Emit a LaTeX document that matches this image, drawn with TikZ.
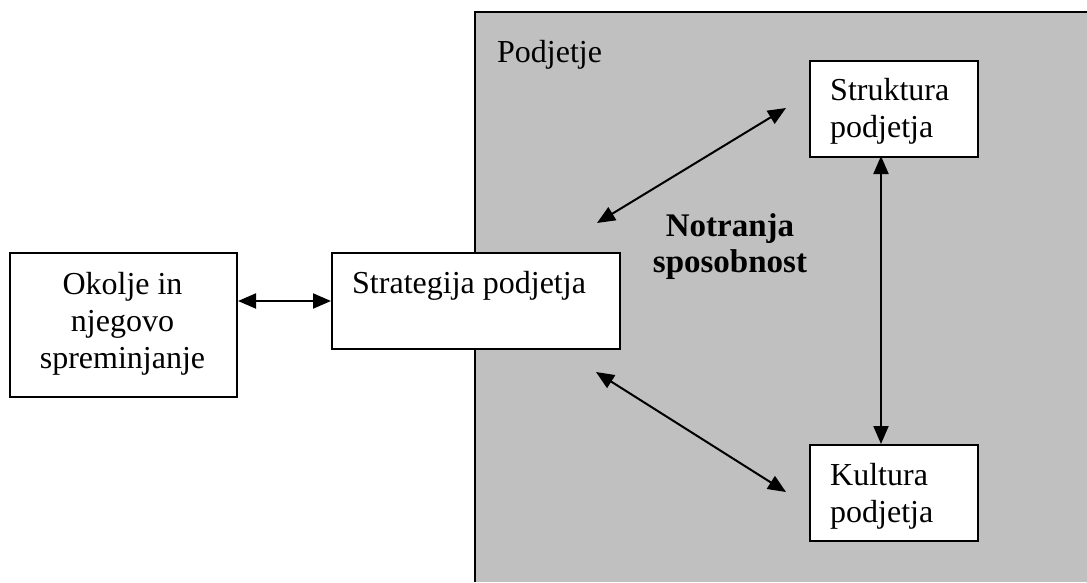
\documentclass[tikz,border=0pt]{standalone}
\usepackage{fontspec}
\setmainfont{Liberation Serif}
\usetikzlibrary{arrows.meta}
\tikzset{
  box/.style={draw=black, line width=2pt, fill=white, inner sep=0pt},
  txt/.style={inner sep=0pt, font=\fontsize{32}{37}\selectfont},
  conn/.style={line width=2pt, {Triangle[length=18pt,width=15pt]}-{Triangle[length=18pt,width=15pt]}},
}
\begin{document}
\begin{tikzpicture}[x=1pt,y=-1pt]
\useasboundingbox (0,0) rectangle (1087,582);
% grey company area
\fill[fill={rgb,255:red,192;green,192;blue,192}] (475,12) rectangle (1087,582);
\draw[line width=2.2pt] (475,582) -- (475,12) -- (1087,12);
% boxes
\node[box, anchor=north west, minimum width=227pt, minimum height=144pt] (okolje) at (9,252) {};
\node[box, anchor=north west, minimum width=288pt, minimum height=96pt] (strat) at (331,252) {};
\node[box, anchor=north west, minimum width=168pt, minimum height=96pt] (strukt) at (809,60) {};
\node[box, anchor=north west, minimum width=168pt, minimum height=96pt] (kult) at (809,444) {};
% texts
\node[txt, align=center, anchor=center] (okt) at (122.5,324) {Okolje in\\njegovo\\spreminjanje};
\node[txt, anchor=base west] (st) at (352,293) {Strategija podjetja};
\node[txt, anchor=base west, align=left] (skt) at (830,137) {Struktura\\podjetja};
\node[txt, anchor=base west, align=left] (kut) at (830,522) {Kultura\\podjetja};
\node[txt, anchor=base west] (pod) at (497,62) {Podjetje};
\node[txt, anchor=base, align=center, font=\fontsize{33}{36}\selectfont\bfseries] (notr) at (730,272) {Notranja\\sposobnost};
% connector end points
\coordinate (a1) at (597,223);
\coordinate (a2) at (786,108);
\coordinate (b1) at (596,372);
\coordinate (b2) at (786,492);
\coordinate (v1) at (881,156);
\coordinate (v2) at (881,444);
% connectors
\draw[conn] (strat.west -| okolje.east) -- (strat.west);
\draw[conn] (a1) -- (a2);
\draw[conn] (b1) -- (b2);
\draw[conn] (v1) -- (v2);
\end{tikzpicture}
\end{document}
